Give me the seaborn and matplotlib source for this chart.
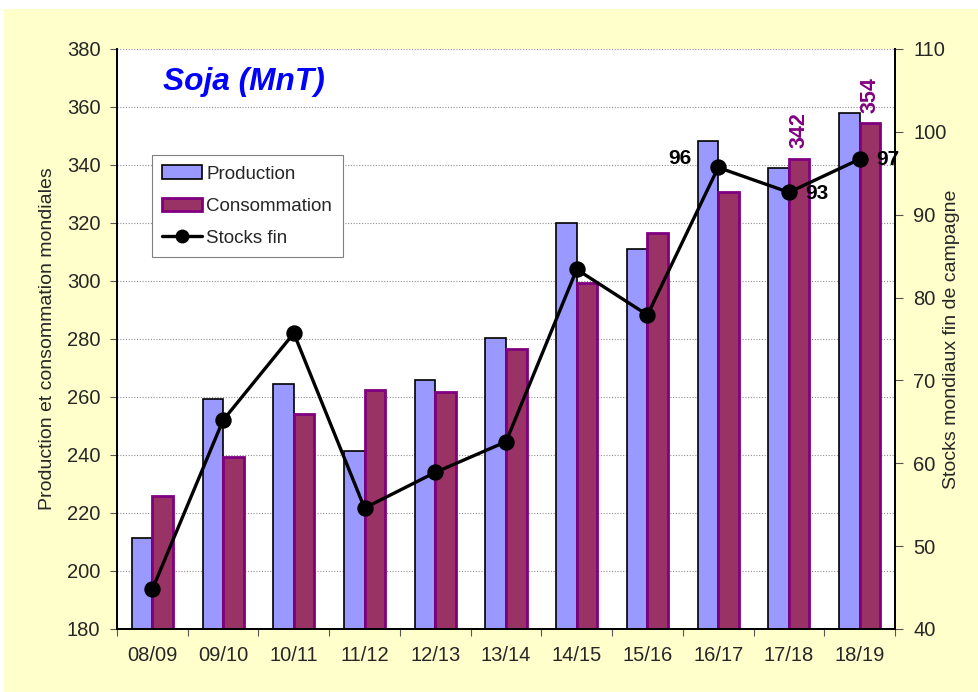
import matplotlib
matplotlib.use("Agg")
import numpy as np
import pandas as pd
import seaborn as sns
import matplotlib.pyplot as plt
from matplotlib.patches import Patch, Rectangle
from matplotlib.lines import Line2D
from matplotlib.ticker import MultipleLocator, NullFormatter, FixedLocator

# ---- data ----
campagnes = ["08/09", "09/10", "10/11", "11/12", "12/13", "13/14",
             "14/15", "15/16", "16/17", "17/18", "18/19"]
production = [211.3, 259.3, 264.5, 241.4, 265.9, 280.2, 320.1, 310.9, 348.3, 338.9, 358.0]
consommation = [225.9, 239.2, 254.2, 262.4, 261.7, 276.6, 299.2, 316.7, 330.7, 342.1, 354.4]
stocks = [44.8, 65.2, 75.7, 54.6, 58.9, 62.6, 83.4, 77.9, 95.7, 92.7, 96.7]
stock_labels = {"16/17": "96", "17/18": "93", "18/19": "97"}
conso_labels = {"17/18": "342", "18/19": "354"}

sns.set_theme(style="white")
plt.rcParams["font.family"] = ["Liberation Sans", "DejaVu Sans"]

col_prod = "#9999FF"
col_cons = "#993366"
edge_cons = "#800080"

df = pd.DataFrame({
    "campagne": campagnes * 2,
    "serie": ["Production"] * len(campagnes) + ["Consommation"] * len(campagnes),
    "valeur": production + consommation,
})

fig = plt.figure(figsize=(9.79, 6.92), dpi=100, facecolor="white")
fig.patches.append(Rectangle((4 / 979, 0), 1, 1 - 9 / 692, transform=fig.transFigure,
                             facecolor="#FFFFCC", edgecolor="none", zorder=-10))
ax = fig.add_axes([117 / 979, 1 - 629 / 692, 778 / 979, 580 / 692])
ax.set_facecolor("white")

sns.barplot(data=df, x="campagne", y="valeur", hue="serie", order=campagnes,
            hue_order=["Production", "Consommation"],
            palette={"Production": col_prod, "Consommation": col_cons},
            width=0.58, gap=0, saturation=1, errorbar=None, legend=False, ax=ax)
for p in ax.containers[0]:
    p.set_edgecolor("black")
    p.set_linewidth(1.2)
for p in ax.containers[1]:
    p.set_edgecolor(edge_cons)
    p.set_linewidth(2.0)

ax2 = ax.twinx()
sns.pointplot(x=campagnes, y=stocks, order=campagnes, color="black", markers="o",
              markersize=10, linewidth=2.4, errorbar=None, ax=ax2)

n = len(campagnes)
ax.set_ylim(180, 380)
ax2.set_ylim(40, 110)
ax.set_xlim(-0.5, n - 0.5)
ax2.set_xlim(-0.5, n - 0.5)

ax.yaxis.set_major_locator(MultipleLocator(20))
ax2.yaxis.set_major_locator(MultipleLocator(10))
ax.grid(axis="y", color="#909090", linestyle=(0, (1, 1.5)), linewidth=0.8)
ax.grid(axis="x", visible=False)
ax2.grid(False)
ax.set_axisbelow(True)

# x ticks: marks at boundaries, labels at centres
ax.xaxis.set_major_locator(FixedLocator(np.arange(-0.5, n, 1.0)))
ax.xaxis.set_major_formatter(NullFormatter())
ax.set_xticks(np.arange(n), labels=campagnes, minor=True)
ax.tick_params(axis="x", which="major", bottom=True, length=5, width=0.8, color="#555555")
ax.tick_params(axis="x", which="minor", bottom=True, length=0, pad=12, labelsize=14.5)
ax2.tick_params(axis="x", which="both", bottom=False, top=False, labelbottom=False)
ax.tick_params(axis="y", left=True, length=5, width=0.8, color="#555555", labelsize=14.5, pad=7)
ax2.tick_params(axis="y", right=True, length=6, width=0.8, color="#555555", labelsize=14.5, pad=7)

ax.set_xlabel("")
ax.set_ylabel("Production et consommation mondiales", fontsize=14)
ax2.set_ylabel("Stocks mondiaux fin de campagne", fontsize=14)
ax.yaxis.set_label_coords(-0.078, 0.5)
ax2.yaxis.set_label_coords(1.062, 0.5)

for a in (ax, ax2):
    a.spines["top"].set_visible(False)
    for s in ("left", "right", "bottom"):
        a.spines[s].set_color("black")
        a.spines[s].set_linewidth(1.3)

# data labels
offsets = {"16/17": (-19, 6.5, "right"), "17/18": (11.5, -0.7, "left"), "18/19": (12, 0, "left")}
for k, txt in stock_labels.items():
    i = campagnes.index(k)
    dx, dy, ha = offsets[k]
    ax2.annotate(txt, xy=(i, stocks[i]), xytext=(dx, dy), textcoords="offset points",
                 ha=ha, va="center", fontsize=15, fontweight="bold", color="black")
for k, txt in conso_labels.items():
    i = campagnes.index(k)
    p = ax.containers[1][i]
    ax.annotate(txt, xy=(p.get_x() + p.get_width() / 2, p.get_height()), xytext=(0, 7.5),
                textcoords="offset points", rotation=90, ha="center", va="bottom",
                fontsize=15.5, fontweight="bold", color=edge_cons)

# title
fig.text(163 / 979, 1 - 90 / 692, "Soja (MnT)", fontsize=22.8, fontweight="bold",
         style="italic", color="#0000FF", ha="left", va="baseline")

# legend
handles = [
    Patch(facecolor=col_prod, edgecolor="black", linewidth=1.2, label="Production"),
    Patch(facecolor=col_cons, edgecolor=edge_cons, linewidth=2.0, label="Consommation"),
    Line2D([0], [0], color="black", linewidth=2.4, marker="o", markersize=9, label="Stocks fin"),
]
leg = ax2.legend(handles=handles, loc="upper left", bbox_to_anchor=(0.045, 0.817),
                 borderaxespad=0, fontsize=13.5, frameon=True, fancybox=False,
                 framealpha=1, edgecolor="#808080", labelspacing=0.8,
                 handlelength=2.1, handletextpad=0.25, borderpad=0.55)
leg.get_frame().set_linewidth(0.8)

fig.savefig("out.png", dpi=100, facecolor=fig.get_facecolor())
